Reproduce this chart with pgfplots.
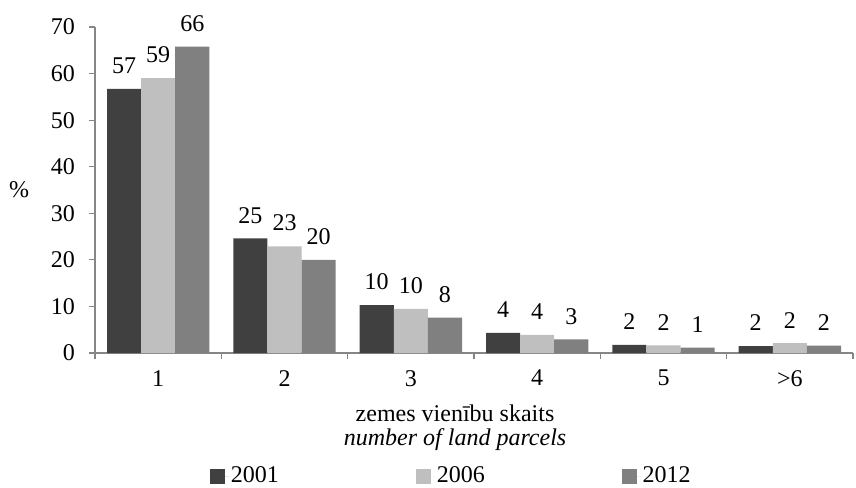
\documentclass[border=0pt]{standalone}
\usepackage{pgfplots}
\pgfplotsset{compat=1.18}
\usepackage{fontspec}
\setmainfont{Liberation Serif}
\definecolor{cA}{HTML}{404040}
\definecolor{cB}{HTML}{BFBFBF}
\definecolor{cC}{HTML}{808080}
\definecolor{axgray}{HTML}{868686}
\newcommand{\fs}{\fontsize{24bp}{24bp}\selectfont}
\begin{document}
\fs
\begin{tikzpicture}
\useasboundingbox (-95bp,-135bp) rectangle (761bp,353bp);
\begin{axis}[
  scale only axis,
  width=758bp, height=326bp,
  ymin=0, ymax=70, ytick={0,10,...,70},
  xmin=-0.5, xmax=5.5,
  xtick={0,1,2,3,4,5},
  xticklabels={1,2,3,4,5,>6},
  minor xtick={-0.5,0.5,1.5,2.5,3.5,4.5,5.5},
  major x tick style={draw=none},
  minor tick length=6bp,
  major tick length=6bp,
  tick align=outside,
  tick pos=left,
  axis x line*=bottom,
  axis y line*=left,
  axis line style={axgray, line width=1.2pt},
  every tick/.style={axgray, line width=1.2pt},
  tick label style={font=\fs},
  xticklabel style={yshift=-3bp},
  yticklabel style={xshift=-6bp},
  /pgf/number format/assume math mode=true,
  ylabel={\%},
  ylabel style={at={(axis description cs:0,0.5)}, anchor=center, rotate=-90, xshift=-76bp, font=\fs},
  xlabel={zemes vienību skaits\\\textit{number of land parcels}},
  xlabel style={at={(axis description cs:0.475,0)}, anchor=center, align=center, font=\fs, yshift=-75bp},
  ybar=0pt,
  bar width=0.27,
  point meta=explicit symbolic,
  nodes near coords,
  every node near coord/.append style={font=\fs, yshift=7bp},
  legend style={at={(0.47,-0.378)}, anchor=center, draw=none, legend columns=3,
    font=\fs, inner sep=0pt,
    /tikz/every even column/.append style={column sep=135bp}},
  legend image code/.code={\fill[#1] (0bp,-7.5bp) rectangle (15bp,7.5bp); \path (0bp,0bp) -- (19bp,0bp);},
]
\addplot[fill=cA, draw=none, bar shift=-0.27] coordinates {(0,56.7)[57] (1,24.6)[25] (2,10.3)[10] (3,4.3)[4] (4,1.75)[2] (5,1.5)[2]};
\addplot[fill=cB, draw=none, bar shift=0] coordinates {(0,59.0)[59] (1,22.9)[23] (2,9.5)[10] (3,3.9)[4] (4,1.65)[2] (5,2.1)[2]};
\addplot[fill=cC, draw=none, bar shift=0.27] coordinates {(0,65.8)[66] (1,20.0)[20] (2,7.6)[8] (3,2.9)[3] (4,1.15)[1] (5,1.6)[2]};
\legend{2001,2006,2012}
\end{axis}
\end{tikzpicture}
\end{document}
